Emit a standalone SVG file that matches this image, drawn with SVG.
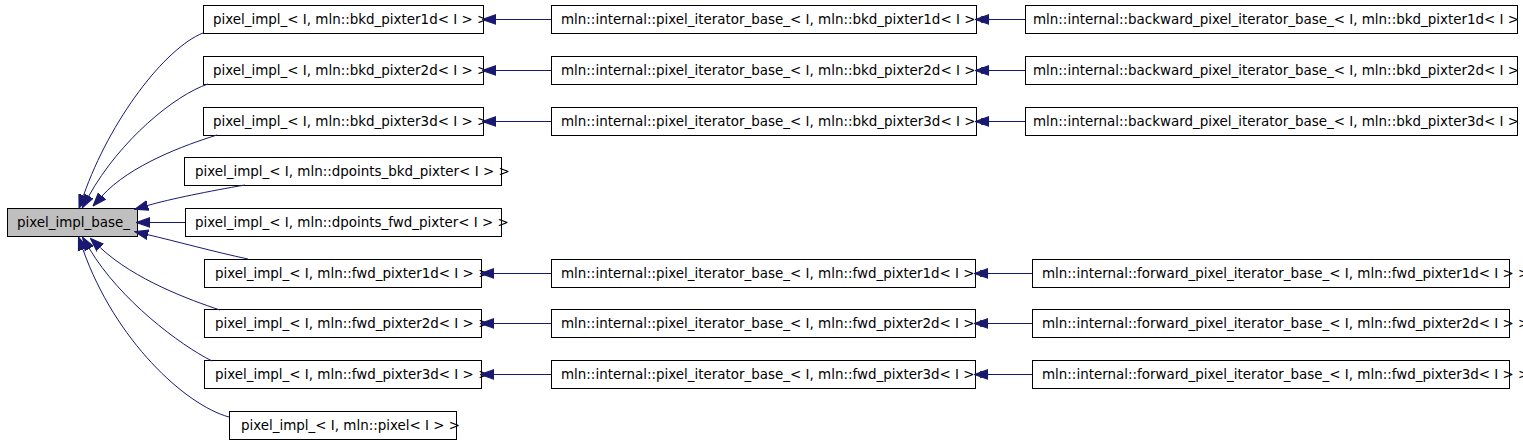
<svg xmlns="http://www.w3.org/2000/svg" width="1523" height="443" viewBox="0 0 1523 443">
<style>
.box{fill:#ffffff;stroke:#000000;stroke-width:1}
.base{fill:#bfbfbf;stroke:#000000;stroke-width:1}
text{font-family:"DejaVu Sans","Liberation Sans",sans-serif;font-size:13.45px;fill:#000000}
.edge{fill:none;stroke:#191970;stroke-width:1}
</style>
<defs>
<marker id="ah" markerUnits="userSpaceOnUse" markerWidth="14" markerHeight="12" refX="0" refY="5" orient="auto" viewBox="0 0 13 10">
<polygon points="0,0.5 12.5,5 0,9.5" fill="#191970" stroke="#191970" stroke-width="1"/>
</marker>
</defs>
<rect x="0" y="0" width="1523" height="443" fill="#ffffff"/>
<g id="nodes">
<g id="n_base"><rect class="base" x="7.5" y="208.5" width="130" height="28"/><text x="17" y="226.5">pixel_impl_base_</text></g>
<g id="n_bkd1d"><rect class="box" x="203.5" y="5.5" width="280" height="28"/><text x="213" y="23.5">pixel_impl_&lt; I, mln::bkd_pixter1d&lt; I &gt; &gt;</text></g>
<g id="n_bkd2d"><rect class="box" x="203.5" y="56.5" width="280" height="28"/><text x="213" y="74.5">pixel_impl_&lt; I, mln::bkd_pixter2d&lt; I &gt; &gt;</text></g>
<g id="n_bkd3d"><rect class="box" x="203.5" y="107.5" width="280" height="28"/><text x="213" y="125.5">pixel_impl_&lt; I, mln::bkd_pixter3d&lt; I &gt; &gt;</text></g>
<g id="n_dpbkd"><rect class="box" x="184.5" y="157.5" width="317" height="28"/><text x="195" y="175.5">pixel_impl_&lt; I, mln::dpoints_bkd_pixter&lt; I &gt; &gt;</text></g>
<g id="n_dpfwd"><rect class="box" x="185.5" y="208.5" width="316" height="28"/><text x="195" y="226.5">pixel_impl_&lt; I, mln::dpoints_fwd_pixter&lt; I &gt; &gt;</text></g>
<g id="n_fwd1d"><rect class="box" x="204.5" y="259.5" width="277" height="28"/><text x="215" y="277.5">pixel_impl_&lt; I, mln::fwd_pixter1d&lt; I &gt; &gt;</text></g>
<g id="n_fwd2d"><rect class="box" x="204.5" y="309.5" width="277" height="28"/><text x="215" y="327.5">pixel_impl_&lt; I, mln::fwd_pixter2d&lt; I &gt; &gt;</text></g>
<g id="n_fwd3d"><rect class="box" x="204.5" y="360.5" width="277" height="28"/><text x="215" y="378.5">pixel_impl_&lt; I, mln::fwd_pixter3d&lt; I &gt; &gt;</text></g>
<g id="n_pixel"><rect class="box" x="229.5" y="411.5" width="227" height="28"/><text x="241" y="429.5">pixel_impl_&lt; I, mln::pixel&lt; I &gt; &gt;</text></g>
<g id="n_pib_bkd1d"><rect class="box" x="551.5" y="5.5" width="425" height="28"/><text x="561" y="23.5">mln::internal::pixel_iterator_base_&lt; I, mln::bkd_pixter1d&lt; I &gt; &gt;</text></g>
<g id="n_pib_bkd2d"><rect class="box" x="551.5" y="56.5" width="425" height="28"/><text x="561" y="74.5">mln::internal::pixel_iterator_base_&lt; I, mln::bkd_pixter2d&lt; I &gt; &gt;</text></g>
<g id="n_pib_bkd3d"><rect class="box" x="551.5" y="107.5" width="425" height="28"/><text x="561" y="125.5">mln::internal::pixel_iterator_base_&lt; I, mln::bkd_pixter3d&lt; I &gt; &gt;</text></g>
<g id="n_pib_fwd1d"><rect class="box" x="551.5" y="259.5" width="424" height="28"/><text x="561" y="277.5">mln::internal::pixel_iterator_base_&lt; I, mln::fwd_pixter1d&lt; I &gt; &gt;</text></g>
<g id="n_pib_fwd2d"><rect class="box" x="551.5" y="309.5" width="424" height="28"/><text x="561" y="327.5">mln::internal::pixel_iterator_base_&lt; I, mln::fwd_pixter2d&lt; I &gt; &gt;</text></g>
<g id="n_pib_fwd3d"><rect class="box" x="551.5" y="360.5" width="424" height="28"/><text x="561" y="378.5">mln::internal::pixel_iterator_base_&lt; I, mln::fwd_pixter3d&lt; I &gt; &gt;</text></g>
<g id="n_bpib_1d"><rect class="box" x="1025.5" y="5.5" width="492" height="28"/><text x="1033" y="23.5">mln::internal::backward_pixel_iterator_base_&lt; I, mln::bkd_pixter1d&lt; I &gt; &gt;</text></g>
<g id="n_bpib_2d"><rect class="box" x="1025.5" y="56.5" width="492" height="28"/><text x="1033" y="74.5">mln::internal::backward_pixel_iterator_base_&lt; I, mln::bkd_pixter2d&lt; I &gt; &gt;</text></g>
<g id="n_bpib_3d"><rect class="box" x="1025.5" y="107.5" width="492" height="28"/><text x="1033" y="125.5">mln::internal::backward_pixel_iterator_base_&lt; I, mln::bkd_pixter3d&lt; I &gt; &gt;</text></g>
<g id="n_fpib_1d"><rect class="box" x="1032.5" y="259.5" width="477" height="28"/><text x="1042" y="277.5">mln::internal::forward_pixel_iterator_base_&lt; I, mln::fwd_pixter1d&lt; I &gt; &gt;</text></g>
<g id="n_fpib_2d"><rect class="box" x="1032.5" y="309.5" width="477" height="28"/><text x="1042" y="327.5">mln::internal::forward_pixel_iterator_base_&lt; I, mln::fwd_pixter2d&lt; I &gt; &gt;</text></g>
<g id="n_fpib_3d"><rect class="box" x="1032.5" y="360.5" width="477" height="28"/><text x="1042" y="378.5">mln::internal::forward_pixel_iterator_base_&lt; I, mln::fwd_pixter3d&lt; I &gt; &gt;</text></g>
</g>
<g id="connectors">
<path class="edge" marker-end="url(#ah)" d="M203,33 C165,48 110,120 83.5,195.5"/>
<path class="edge" marker-end="url(#ah)" d="M208,84 C175,95 120,140 88.8,196"/>
<path class="edge" marker-end="url(#ah)" d="M217,135 C185,145 130,165 102,196"/>
<path class="edge" marker-end="url(#ah)" d="M245,185 C210,191 170,199 147.7,205.5"/>
<path class="edge" marker-end="url(#ah)" d="M185,222.5 L150,222.5"/>
<path class="edge" marker-end="url(#ah)" d="M248,259 C215,252 175,241 147.8,234.7"/>
<path class="edge" marker-end="url(#ah)" d="M220,310 C190,300 135,280 100.2,247.6"/>
<path class="edge" marker-end="url(#ah)" d="M212,361 C180,345 120,300 89.4,248.7"/>
<path class="edge" marker-end="url(#ah)" d="M229,417 C185,405 115,340 83,249.6"/>
<path class="edge" marker-end="url(#ah)" d="M551,19.5 L496,19.5"/>
<path class="edge" marker-end="url(#ah)" d="M551,70.5 L496,70.5"/>
<path class="edge" marker-end="url(#ah)" d="M551,121.5 L496,121.5"/>
<path class="edge" marker-end="url(#ah)" d="M551,273.5 L494,273.5"/>
<path class="edge" marker-end="url(#ah)" d="M551,323.5 L494,323.5"/>
<path class="edge" marker-end="url(#ah)" d="M551,374.5 L494,374.5"/>
<path class="edge" marker-end="url(#ah)" d="M1025,19.5 L989,19.5"/>
<path class="edge" marker-end="url(#ah)" d="M1025,70.5 L989,70.5"/>
<path class="edge" marker-end="url(#ah)" d="M1025,121.5 L989,121.5"/>
<path class="edge" marker-end="url(#ah)" d="M1032,273.5 L988,273.5"/>
<path class="edge" marker-end="url(#ah)" d="M1032,323.5 L988,323.5"/>
<path class="edge" marker-end="url(#ah)" d="M1032,374.5 L988,374.5"/>
</g>
</svg>
